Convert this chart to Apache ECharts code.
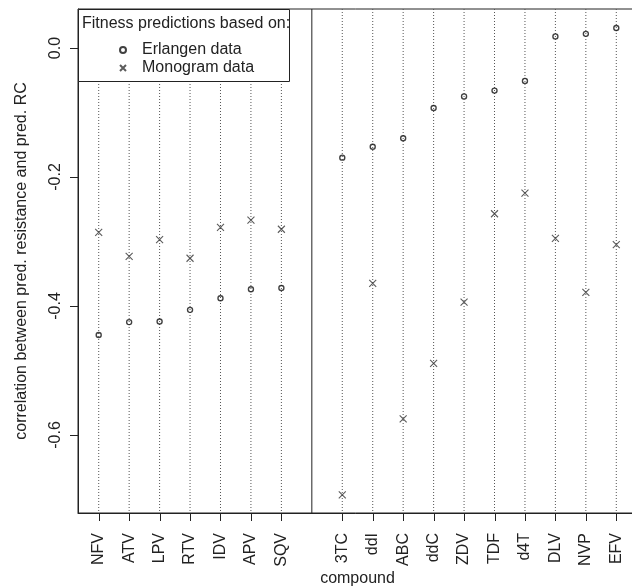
<!DOCTYPE html>
<html>
<head>
<meta charset="utf-8">
<script src="https://cdn.jsdelivr.net/npm/echarts@6/dist/echarts.min.js"></script>
<style>
html,body{margin:0;padding:0;background:#fff;}
#chart{width:632px;height:588px;}
</style>
</head>
<body>
<div id="chart"></div>
<script>
// ---- data ----
const groupA = ['NFV','ATV','LPV','RTV','IDV','APV','SQV'];
const groupB = ['3TC','ddI','ABC','ddC','ZDV','TDF','d4T','DLV','NVP','EFV'];
const erlangenA = [-0.445,-0.425,-0.424,-0.406,-0.388,-0.374,-0.372];
const erlangenB = [-0.170,-0.153,-0.140,-0.093,-0.075,-0.066,-0.051,0.018,0.022,0.031];
const monogramA = [-0.286,-0.323,-0.297,-0.326,-0.278,-0.267,-0.281];
const monogramB = [-0.693,-0.365,-0.575,-0.489,-0.394,-0.257,-0.225,-0.295,-0.379,-0.305];
const yTicks = [0, -0.2, -0.4, -0.6];
const legendTitle = 'Fitness predictions based on:';
const seriesNames = ['Erlangen data','Monogram data'];
const xName = 'compound';
const yName = 'correlation between pred. resistance and pred. RC';

// ---- build ----
const posA = groupA.map((c,i)=>i+1);
const posB = groupB.map((c,i)=>groupA.length+2+i);
const separator = groupA.length+1;
const allPos = posA.concat(posB);
const allNames = groupA.concat(groupB);
const nameAt = {};
allPos.forEach((p,i)=>{nameAt[p]=allNames[i];});
const erlangen = posA.map((p,i)=>[p,erlangenA[i]]).concat(posB.map((p,i)=>[p,erlangenB[i]]));
const monogram = posA.map((p,i)=>[p,monogramA[i]]).concat(posB.map((p,i)=>[p,monogramB[i]]));
const vlines = allPos.map(p=>[p,0]).concat([[separator,1]]);
const tickMarks = allPos.map(p=>[p,0,0]).concat(yTicks.map(v=>[0,v,1]));

const FONT = 'Liberation Sans, Arial, sans-serif';
const TXT = '#222';
const TICK_LEN = 8;
const crossPath = 'path://M0,0L10,10M10,0L0,10';

const chart = echarts.init(document.getElementById('chart'), null, {renderer:'canvas'});
chart.setOption({
  animation:false,
  backgroundColor:'#fff',
  textStyle:{fontFamily:FONT},
  grid:{left:78,top:9,width:559,height:504,containLabel:false,outerBoundsMode:'none',
    show:true,borderColor:'#222',borderWidth:1,backgroundColor:'transparent'},
  xAxis:{
    type:'value',min:0.32,max:18.68,
    name:xName,nameLocation:'middle',nameGap:58,nameMoveOverlap:false,
    nameTextStyle:{fontSize:16,color:TXT,fontFamily:FONT},
    axisLine:{show:true,onZero:false,lineStyle:{color:'#222',width:1}},
    splitLine:{show:false},
    axisTick:{show:false},
    axisLabel:{rotate:90,margin:20,fontSize:16,color:TXT,fontFamily:FONT,customValues:allPos,
      formatter:v=>nameAt[Math.round(v)]||''}
  },
  yAxis:{
    type:'value',min:-0.721,max:0.0605,
    name:yName,nameLocation:'middle',nameGap:48,nameRotate:90,nameMoveOverlap:false,
    nameTextStyle:{fontSize:16,color:TXT,fontFamily:FONT},
    axisLine:{show:true,onZero:false,lineStyle:{color:'#222',width:1}},
    splitLine:{show:false},
    axisTick:{show:false},
    axisLabel:{rotate:90,margin:14,fontSize:16,color:TXT,fontFamily:FONT,customValues:yTicks,
      formatter:v=>v.toFixed(1)}
  },
  legend:{
    orient:'vertical',left:119,top:42,padding:0,itemGap:2,itemWidth:28,itemHeight:6,
    z:60,
    textStyle:{fontSize:16,color:TXT,fontFamily:FONT,padding:[0,0,0,0]},
    data:[{name:seriesNames[0],icon:'circle'},{name:seriesNames[1],icon:crossPath}]
  },
  graphic:[
    {type:'rect',z:50,shape:{x:78.5,y:9.5,width:211,height:72},style:{fill:'#fff',stroke:'#222',lineWidth:1}},
    {type:'text',z:55,x:82,y:23.5,style:{text:legendTitle,font:'16px '+FONT,fill:TXT,textVerticalAlign:'middle'}}
  ],
  series:[
    {
      type:'custom',name:'guides',data:vlines,silent:true,z:1,
      encode:{x:0,y:-1},
      renderItem:function(params,api){
        const x = api.coord([api.value(0), 0])[0];
        const cs = params.coordSys;
        const solid = api.value(1) === 1;
        return {type:'line',shape:{x1:x,y1:cs.y,x2:x,y2:cs.y+cs.height},
          style:{stroke:solid?'#222':'#555',lineWidth:1,lineDash:solid?null:[1,2]}};
      }
    },
    {
      type:'custom',name:'ticks',data:tickMarks,silent:true,z:3,clip:false,
      encode:{x:-1,y:-1},
      renderItem:function(params,api){
        const cs = params.coordSys;
        if (api.value(2) === 0) {
          const x = Math.round(api.coord([api.value(0), 0])[0]) + 0.5;
          const yb = cs.y + cs.height;
          return {type:'line',shape:{x1:x,y1:yb,x2:x,y2:yb+TICK_LEN},style:{stroke:'#222',lineWidth:1}};
        }
        const y = Math.round(api.coord([1, api.value(1)])[1]) + 0.5;
        return {type:'line',shape:{x1:cs.x-TICK_LEN,y1:y,x2:cs.x,y2:y},style:{stroke:'#222',lineWidth:1}};
      }
    },
    {
      name:seriesNames[0],type:'scatter',data:erlangen,symbol:'circle',symbolSize:5,
      itemStyle:{color:'transparent',borderColor:'#111',borderWidth:1.4},
      z:5
    },
    {
      name:seriesNames[1],type:'scatter',data:monogram,symbol:crossPath,symbolSize:7,
      itemStyle:{color:'transparent',borderColor:'#333',borderWidth:1.1},
      z:5
    }
  ]
});
</script>
</body>
</html>
